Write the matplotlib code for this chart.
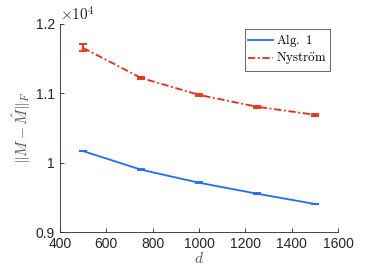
import matplotlib
matplotlib.use("Agg")
import matplotlib.pyplot as plt
from matplotlib.lines import Line2D

plt.rcParams['font.family'] = ['Liberation Sans', 'DejaVu Sans']
plt.rcParams['mathtext.fontset'] = 'cm'

d = [500, 750, 1000, 1250, 1500]
alg1 = [10168, 9900, 9712, 9554, 9406]
alg1_err = [6, 6, 5, 5, 5]
nystrom = [11655, 11222, 10978, 10806, 10691]
nystrom_err = [50, 20, 12, 12, 12]
yticks = [9000, 10000, 11000, 12000]
ytick_labels = ['0.9', '1', '1.1', '1.2']
xticks = [400, 600, 800, 1000, 1200, 1400, 1600]

fig = plt.figure(figsize=(3.74, 2.78), dpi=100)
ax = fig.add_axes([0.160, 0.165, 0.744, 0.749])

blue = '#1f6cff'
red = '#ee2a0a'
dashdot = (0, (4, 1.5, 1, 1.5))
ax.errorbar(d, alg1, yerr=alg1_err, color=blue, lw=1.3, capsize=3, capthick=1.3)
ax.errorbar(d, nystrom, yerr=nystrom_err, color=red, lw=1.3, ls=dashdot, capsize=3,
            capthick=1.3)

ax.set_xlim(400, 1600)
ax.set_ylim(9000, 12000)
ax.set_xticks(xticks)
ax.set_yticks(yticks)
ax.set_yticklabels(ytick_labels)
ax.text(0.0, 1.0, r'$\times10^4$', transform=ax.transAxes, fontsize=11,
        va='bottom', ha='left', color='#262626', family='DejaVu Sans')

for s in ['top', 'right']:
    ax.spines[s].set_visible(False)
for s in ['left', 'bottom']:
    ax.spines[s].set_color('#262626')
    ax.spines[s].set_linewidth(0.6)
ax.tick_params(direction='in', length=3, width=0.6, labelsize=10, colors='#262626')

ax.set_xlabel(r'$d$', fontsize=11, color='#555555', labelpad=0)
ax.set_ylabel(r'$\|M-\hat{M}\|_F$', fontsize=11, color='#555555', labelpad=2)

handles = [Line2D([], [], color=blue, lw=1.3),
           Line2D([], [], color=red, lw=1.3, ls=dashdot)]
leg = ax.legend(handles, [r'$\mathrm{Alg.\ 1}$', r'$\mathrm{Nystr\ddot{o}m}$'],
                loc='upper right', bbox_to_anchor=(0.97, 0.975), fontsize=9.3,
                frameon=True, fancybox=False, edgecolor='#262626',
                handlelength=1.9, handletextpad=0.25, borderpad=0.25,
                labelspacing=0.15, borderaxespad=0)
leg.get_frame().set_linewidth(0.6)

fig.savefig('out.png', dpi=100)
